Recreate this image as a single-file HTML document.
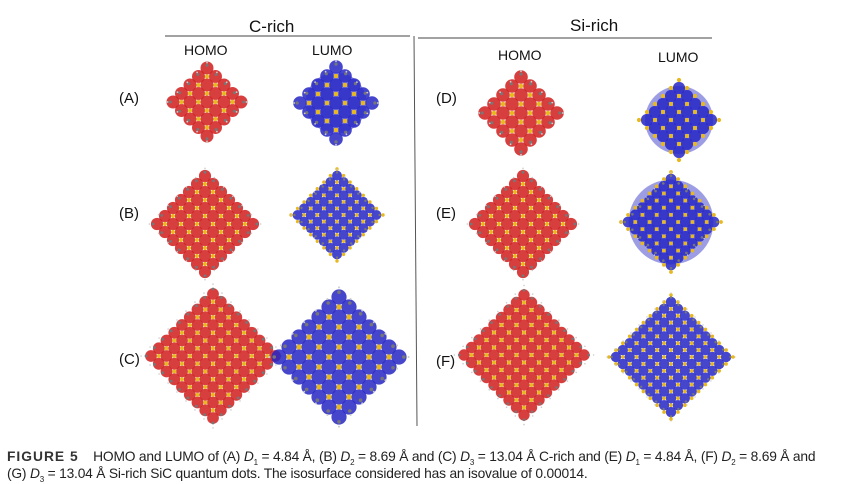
<!DOCTYPE html>
<html><head><meta charset="utf-8"><style>
body{margin:0;background:#fff;width:850px;height:480px;overflow:hidden;font-family:"Liberation Sans",sans-serif}
.t{position:absolute;color:#111}
</style></head><body>
<svg id="s" width="850" height="480" style="position:absolute;left:0;top:0">
<line x1="165" y1="36" x2="410" y2="36" stroke="#444" stroke-width="1"/>
<line x1="418" y1="38" x2="712" y2="38" stroke="#444" stroke-width="1"/>
<line x1="414" y1="36" x2="417" y2="426" stroke="#555" stroke-width="1"/>
<g id="m"></g>
</svg>
<div class="t" style="left:249px;top:17px;font-size:17px">C-rich</div>
<div class="t" style="left:570px;top:16px;font-size:17px">Si-rich</div>
<div class="t" style="left:184px;top:42px;font-size:14px">HOMO</div>
<div class="t" style="left:312px;top:42px;font-size:14px">LUMO</div>
<div class="t" style="left:498px;top:47px;font-size:14px">HOMO</div>
<div class="t" style="left:658px;top:49px;font-size:14px">LUMO</div>
<div class="t" style="left:119px;top:90px;font-size:15px">(A)</div>
<div class="t" style="left:119px;top:205px;font-size:15px">(B)</div>
<div class="t" style="left:119px;top:351px;font-size:15px">(C)</div>
<div class="t" style="left:436px;top:90px;font-size:15px">(D)</div>
<div class="t" style="left:436px;top:205px;font-size:15px">(E)</div>
<div class="t" style="left:436px;top:353px;font-size:15px">(F)</div>
<div class="t" style="left:7px;top:449px;font-size:13.8px;white-space:nowrap;color:#222;letter-spacing:-0.2px"><b style="letter-spacing:1px;color:#333">FIGURE 5</b>&nbsp;&nbsp;&nbsp; HOMO and LUMO of (A) <i>D</i><sub style="font-size:8px">1</sub> = 4.84 Å, (B) <i>D</i><sub style="font-size:8px">2</sub> = 8.69 Å and (C) <i>D</i><sub style="font-size:8px">3</sub> = 13.04 Å C-rich and (E) <i>D</i><sub style="font-size:8px">1</sub> = 4.84 Å, (F) <i>D</i><sub style="font-size:8px">2</sub> = 8.69 Å and</div>
<div class="t" style="left:7px;top:466px;font-size:13.8px;white-space:nowrap;color:#222;letter-spacing:-0.2px">(G) <i>D</i><sub style="font-size:8px">3</sub> = 13.04 Å Si-rich SiC quantum dots. The isosurface considered has an isovalue of 0.00014.</div>
<script>
var g=document.getElementById('m'),h='';
function c(x,y,r,f,o){h+='<circle cx="'+x.toFixed(1)+'" cy="'+y.toFixed(1)+'" r="'+r.toFixed(1)+'" fill="'+f+'"'+(o?' fill-opacity="'+o+'"':'')+'/>';}
function mol(cx,cy,R,red,n,disk){
 var col=red?'#d01c1c':'#2626c4', st=R*2/n;
 if(disk) c(cx,cy,R*0.85,col,0.45);
 for(var i=-n;i<=n;i++)for(var j=-n;j<=n;j++){
  var x=i*st/2,y=j*st/2; if(Math.abs(x)+Math.abs(y)>R*1.0)continue;
  if((i+j)%2==0){c(cx+x,cy+y,st*0.38,col,0.85);}
 }
 for(var i=-n;i<=n;i++)for(var j=-n;j<=n;j++){
  var x=i*st/2,y=j*st/2, d=Math.abs(x)+Math.abs(y); if(d>R*1.05)continue;
  if((i+j)%2!=0){c(cx+x,cy+y,st*0.13,'#e8b820');}
  else if(d>R*0.8){c(cx+x*1.08,cy+y*1.08,st*0.09,'#777');c(cx+x*1.16,cy+y*1.16,st*0.05,'#ccc');}
 }
}
mol(207,102,34,1,4);mol(336,103,36,0,4,1);
mol(521,113,36,1,4);mol(679,120,40,0,5,1);
mol(205,224,48,1,6);mol(337,215,46,0,7);
mol(523,224,48,1,6);mol(671,222,50,0,7,1);
mol(213,356,62,1,8);mol(339,357,60,0,6);
mol(524,355,60,1,8);mol(671,357,62,0,9);
g.innerHTML=h;
</script>
</body></html>
